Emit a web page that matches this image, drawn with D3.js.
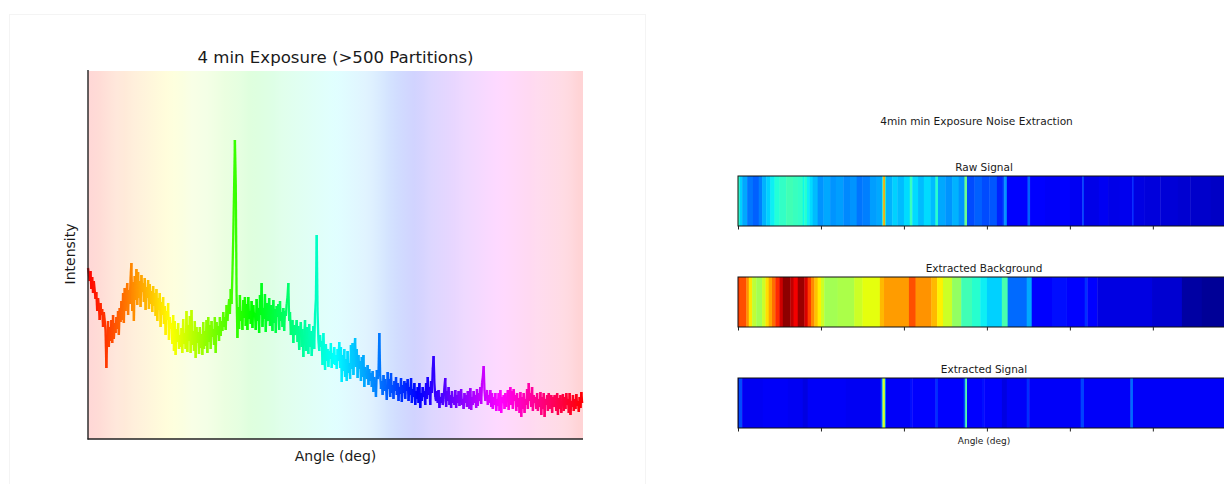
<!DOCTYPE html>
<html>
<head>
<meta charset="utf-8">
<title>4 min Exposure</title>
<script src="https://cdn.jsdelivr.net/npm/d3@7"></script>
<style>
    html, body { margin: 0; padding: 0; background: #fff; overflow: hidden; }
    svg { display: block; font-family: "DejaVu Sans", sans-serif; fill: #1a1a1a; }
</style>
</head>
<body>
<div id="chart"></div>
<script>
// Intensity, one value per degree
const intensity = [
    171,165,158,168,150,162,146,158,149,140,147,128,141,133,119,136,124,130,112,127,
    119,108,71,104,118,92,112,98,119,96,124,100,116,106,122,110,128,104,131,117,
    138,119,146,116,151,128,143,156,124,149,135,162,176,128,157,118,163,139,170,134,
    167,141,158,132,164,147,156,137,161,129,152,141,159,130,155,135,148,127,153,133,
    146,123,150,118,141,129,146,112,137,124,142,115,133,104,128,119,136,99,122,110,
    116,95,124,88,118,84,110,97,116,90,104,92,111,86,120,95,106,90,128,87,
    114,98,123,86,129,94,108,88,118,81,112,96,107,85,112,91,105,84,117,90,
    108,93,119,86,122,97,114,90,118,102,110,94,122,86,117,104,113,98,122,103,
    118,108,127,112,122,109,134,118,128,140,125,150,135,165,202,250,299,256,144,101,
    132,110,144,118,128,109,139,121,142,113,135,109,142,120,128,115,138,111,134,122,
    126,109,140,118,131,106,144,124,156,112,131,120,145,107,136,124,118,141,113,134,
    125,108,139,116,130,106,133,122,135,109,138,118,127,112,131,108,128,123,135,142,
    156,118,127,104,112,119,96,114,104,109,119,97,113,89,107,117,92,110,82,104,
    119,88,112,100,85,115,92,108,83,99,113,90,125,140,204,128,99,88,104,92,
    98,74,106,84,69,95,78,90,72,88,80,96,71,86,75,92,74,84,70,90,
    78,97,71,92,57,84,68,90,62,80,58,88,66,76,60,94,70,96,64,88,
    101,72,90,61,84,70,78,58,82,62,84,52,72,66,60,74,54,70,58,66,
    52,68,47,62,56,42,69,60,66,106,64,50,58,44,64,48,60,52,39,67,
    50,60,42,66,46,54,40,58,48,62,44,56,38,52,45,61,37,54,46,58,
    40,56,48,60,38,52,44,61,36,50,42,56,34,48,40,52,36,56,31,46,
    38,52,42,48,34,56,40,62,44,52,34,58,46,70,83,56,42,38,48,36,
    49,31,42,36,46,34,40,52,61,32,48,38,52,34,44,31,48,36,42,34,
    49,31,44,36,48,33,42,50,34,40,30,46,36,44,32,48,38,30,51,29,
    42,34,48,36,44,31,50,33,46,38,52,35,56,62,73,48,38,44,49,34,
    44,36,49,32,46,30,42,34,46,28,40,33,46,28,49,26,42,36,44,30,
    46,32,40,49,29,44,52,34,48,30,50,38,44,28,46,32,41,26,47,22,
    42,30,46,26,40,34,50,30,56,38,46,32,52,28,44,36,42,30,46,28,
    40,32,47,24,42,30,46,22,40,34,44,28,46,30,38,44,26,42,32,44,
    38,28,46,24,41,30,44,26,38,45,28,42,30,46,34,40,26,46,24,38,
    32,44,28,40,30,45,33,38,27,42,31,47,36
];

// Strength of the pale background, one value every 10 deg
const backgroundStrength = [
    .16,.16,.15,.14,.15,.14,.14,.14,.14,.14,
    .13,.12,.10,.10,.10,.11,.12,.12,.12,.13,
    .13,.13,.13,.12,.12,.12,.12,.12,.12,.12,
    .12,.12,.12,.12,.13,.15,.17,.18,.18,.18,
    .17,.16,.16,.16,.16,.15,.15,.15,.15,.15,
    .15,.15,.15,.15,.14,.14,.14,.14,.15,.17
];

// Strips: edges in deg, then one normalised value per segment
const rawEdges = [0,2,5,11,18,25,29,34,39,44,50,58,66,72,78,80,83,86,90,96,103,111,118,127,135,143,150,159,167,174,175,177,178,186,192,200,207,210,217,224,232,238,241,250,258,266,273,276,285,294,303,312,319,321,324,337,349,352,370,388,400,415,417,435,446,460,475,477,490,509,530,545,570,593];
const rawValues = [.42,.33,.29,.24,.22,.25,.30,.33,.36,.39,.41,.43,.42,.41,.37,.40,.36,.34,.31,.27,.29,.27,.28,.26,.27,.24,.25,.28,.29,.45,.74,.45,.30,.33,.31,.34,.42,.34,.31,.34,.31,.40,.29,.27,.30,.27,.48,.20,.22,.20,.21,.16,.20,.27,.13,.115,.22,.11,.105,.11,.10,.19,.09,.10,.09,.095,.16,.085,.08,.075,.07,.065,.06];

const backgroundEdges = [0,2,10,13,17,22,29,33,37,41,45,50,54,63,67,72,80,84,88,92,96,100,104,120,140,150,171,176,206,214,233,240,247,258,269,282,292,300,318,325,348,354,378,396,418,421,433,499,535,559,593];
const backgroundValues = [.85,.83,.76,.67,.58,.55,.60,.68,.74,.80,.87,.94,.99,.95,.91,.98,.93,.85,.77,.71,.66,.60,.55,.56,.60,.63,.72,.75,.83,.76,.72,.66,.60,.53,.43,.40,.36,.33,.44,.23,.29,.125,.14,.11,.17,.11,.085,.07,.03,.02];

const signalEdges = [0,1,5,30,60,78,84,130,172,174,175,177,178,207,210,238,241,272,274,276,294,297,318,324,348,351,413,417,473,476,593];
const signalValues = [.05,.20,.10,.105,.10,.085,.105,.10,.20,.50,.62,.30,.105,.14,.11,.17,.11,.20,.45,.11,.14,.115,.085,.105,.17,.105,.19,.105,.23,.105];

const stripTicks = [0, 100, 200, 300, 400, 500];
const strips = [
    { title: "Raw Signal", edges: rawEdges, values: rawValues },
    { title: "Extracted Background", edges: backgroundEdges, values: backgroundValues },
    { title: "Extracted Signal", edges: signalEdges, values: signalValues }
];

const width = 1224, height = 484;
const angleMax = 593;

const svg = d3.select("#chart").append("svg")
    .attr("width", width)
    .attr("height", height);

const defs = svg.append("defs");

// Panel outline of the left figure
svg.append("rect")
    .attr("x", 9.5).attr("y", 14.5)
    .attr("width", 636).attr("height", 480)
    .attr("fill", "none")
    .attr("stroke", "#f4f4f4");

// ---- left chart ----
const x = d3.scaleLinear().domain([0, angleMax]).range([88, 583]);
const y = d3.scaleLinear().domain([0, 368]).range([439, 71]);

// hsv colormap, red at both ends
const hue = a => d3.hsl(a / angleMax * 360, 1, 0.5);

// Pale background as one gradient, a stop per strength value
const bgGradient = defs.append("linearGradient").attr("id", "bg-hue");
bgGradient.selectAll("stop")
    .data(backgroundStrength)
    .enter()
    .append("stop")
    .attr("offset", (d, i) => (i + 0.5) / backgroundStrength.length)
    .attr("stop-color", (d, i) => hue((i + 0.5) * angleMax / backgroundStrength.length))
    .attr("stop-opacity", d => d);

svg.append("rect")
    .attr("x", x(0)).attr("y", y(368))
    .attr("width", x(angleMax) - x(0))
    .attr("height", y(0) - y(368))
    .attr("fill", "url(#bg-hue)");

// One short segment per pair of points so the colour follows the angle
const points = intensity.map((v, i) => ({ angle: i, v: v }));
svg.append("g").selectAll("line")
    .data(d3.pairs(points))
    .enter()
    .append("line")
    .attr("x1", d => x(d[0].angle))
    .attr("y1", d => y(d[0].v))
    .attr("x2", d => x(d[1].angle))
    .attr("y2", d => y(d[1].v))
    .attr("stroke", d => hue(d[0].angle))
    .attr("stroke-width", 2.3);

// Spines only, no ticks on this chart
svg.append("line")
    .attr("x1", 88).attr("x2", 88).attr("y1", 70).attr("y2", 439.5)
    .attr("stroke", "#222").attr("stroke-width", 1.4);
svg.append("line")
    .attr("x1", 87.5).attr("x2", 583).attr("y1", 439).attr("y2", 439)
    .attr("stroke", "#222").attr("stroke-width", 1.4);

svg.append("text")
    .attr("x", 335.5).attr("y", 63)
    .attr("text-anchor", "middle")
    .style("font-size", "16.6px")
    .text("4 min Exposure (>500 Partitions)");

svg.append("text")
    .attr("x", 335.5).attr("y", 461)
    .attr("text-anchor", "middle")
    .style("font-size", "14px")
    .text("Angle (deg)");

svg.append("text")
    .attr("transform", "translate(75,254) rotate(-90)")
    .attr("text-anchor", "middle")
    .style("font-size", "14px")
    .text("Intensity");

// ---- right strips ----
const xStrip = d3.scaleLinear().domain([0, angleMax]).range([738, 1230]);

// jet colormap
const jet = d3.scaleLinear()
    .domain([0, .11, .125, .35, .375, .64, .66, .89, .91, 1])
    .range(["#000080", "#0000ff", "#0000ff", "#00e5ff", "#14ffe3", "#edff07", "#fff200", "#ff1700", "#f40000", "#800000"]);

// The strips are interpolated images in the original, so soften along x only
defs.append("filter").attr("id", "soft-x")
    .append("feGaussianBlur").attr("stdDeviation", "0.45 0");

const stripTop = [176, 277, 378];
const stripHeight = 50;

strips.forEach((strip, k) => {
    const g = svg.append("g").attr("transform", `translate(0,${stripTop[k]})`);

    g.append("g").attr("filter", "url(#soft-x)")
        .selectAll("rect")
        .data(strip.values)
        .enter()
        .append("rect")
        .attr("x", (d, i) => xStrip(strip.edges[i]))
        .attr("y", 0)
        .attr("width", (d, i) => xStrip(strip.edges[i + 1]) - xStrip(strip.edges[i]) + 0.4)
        .attr("height", stripHeight)
        .attr("fill", d => jet(d));

    g.append("rect")
        .attr("x", xStrip(0)).attr("y", 0)
        .attr("width", xStrip(angleMax) - xStrip(0)).attr("height", stripHeight)
        .attr("fill", "none")
        .attr("stroke", "#111").attr("stroke-width", 1);

    const axis = g.append("g")
        .attr("transform", `translate(0,${stripHeight})`)
        .call(d3.axisBottom(xStrip).tickValues(stripTicks).tickSize(3.5).tickFormat(""));
    axis.select(".domain").remove();
    axis.selectAll("line").attr("stroke", "#222").attr("stroke-width", 1);

    svg.append("text")
        .attr("x", 984).attr("y", stripTop[k] - 5.5)
        .attr("text-anchor", "middle")
        .style("font-size", "10.5px")
        .text(strip.title);
});

svg.append("text")
    .attr("x", 976.5).attr("y", 124.5)
    .attr("text-anchor", "middle")
    .style("font-size", "10.6px")
    .text("4min min Exposure Noise Extraction");

svg.append("text")
    .attr("x", 984).attr("y", 444)
    .attr("text-anchor", "middle")
    .style("font-size", "9px")
    .text("Angle (deg)");
</script>
</body>
</html>
